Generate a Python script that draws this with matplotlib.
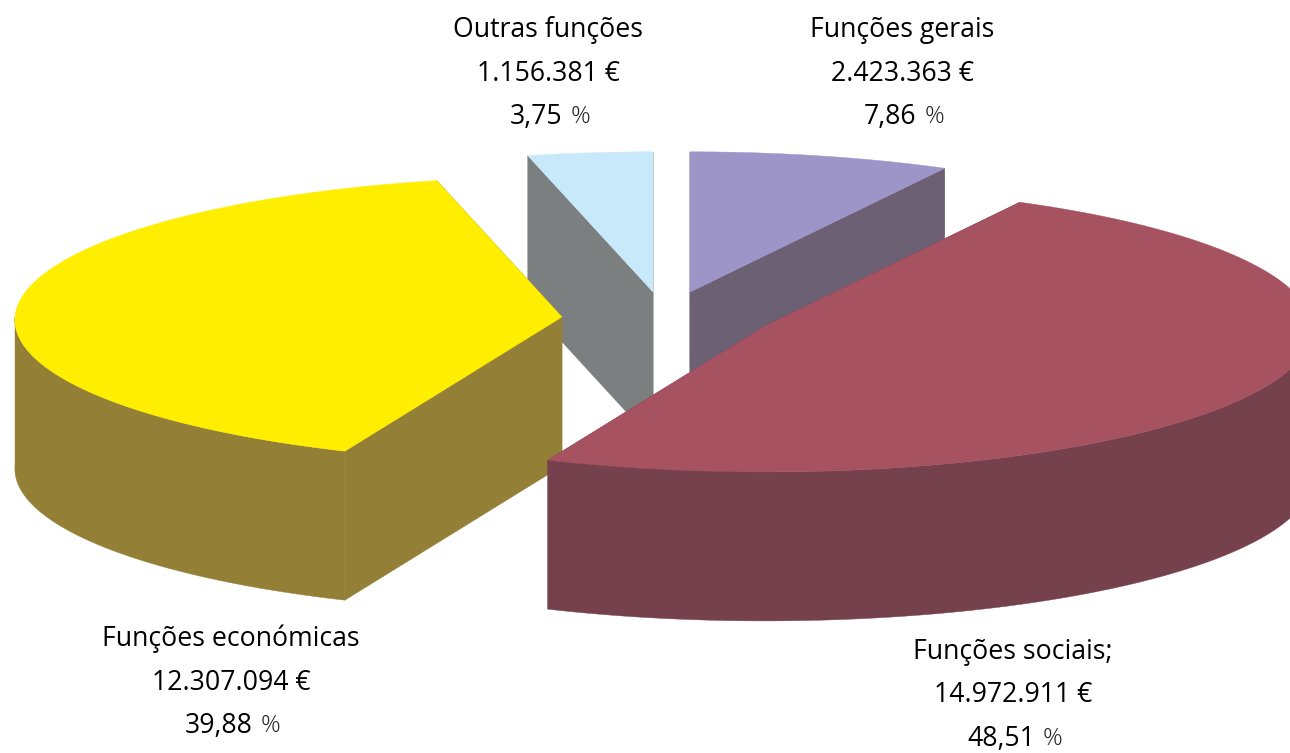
import numpy as np
import matplotlib
matplotlib.use("Agg")
import matplotlib.pyplot as plt
from matplotlib.patches import Polygon

names = ["Funções gerais", "Funções sociais;", "Funções económicas", "Outras funções"]
euros = ["2.423.363 €", "14.972.911 €", "12.307.094 €", "1.156.381 €"]
percent = [7.86, 48.51, 39.88, 3.75]
percent_labels = ["7,86", "48,51", "39,88", "3,75"]

top_colors = ["#9D95C8", "#A65260", "#FFEE00", "#C8E9FA"]
side_colors = ["#6C6074", "#74414C", "#947F37", "#7B7F80"]
apex_x = [690, 765, 562, 653]
apex_y = [292, 326, 317, 292]
label_x = [902, 1013, 231, 548]
label_y = [30, 652, 639, 30]
RX, RY, DEPTH, TILT = 547, 143, 149, 0.02
LINE = 43.5

plt.rcParams["font.family"] = ["Open Sans", "DejaVu Sans"]
fig = plt.figure(figsize=(12.9, 7.53), dpi=100)
ax = fig.add_axes([0, 0, 1, 1])
ax.set_xlim(0, 1290)
ax.set_ylim(753, 0)
ax.axis("off")

edges = np.concatenate([[0], np.cumsum(percent)]) / sum(percent) * 2 * np.pi

def rim(i, start, stop):
    t = np.linspace(start, stop, 200)
    s = 1 / (1 + TILT * np.cos(t))
    return np.column_stack([apex_x[i] + RX * s * np.sin(t), apex_y[i] - RY * s * np.cos(t)])

for i in [3, 0, 2, 1]:
    a, b = edges[i], edges[i + 1]
    arc = rim(i, a, b)
    apex = np.array([apex_x[i], apex_y[i]])
    down = np.array([0, DEPTH])
    # flat walls from the centre to each end of the arc
    for end in (arc[0], arc[-1]):
        wall = np.array([apex, end, end + down, apex + down])
        ax.add_patch(Polygon(wall, closed=True, fc=side_colors[i], ec=side_colors[i], lw=0.3))
    # outer wall on the part of the rim that faces the viewer
    lo, hi = max(a, np.pi / 2), min(b, 3 * np.pi / 2)
    if lo < hi:
        front = rim(i, lo, hi)
        ax.add_patch(Polygon(np.vstack([front, (front + down)[::-1]]), closed=True,
                             fc=side_colors[i], ec=side_colors[i], lw=0.3))
    ax.add_patch(Polygon(np.vstack([apex, arc]), closed=True, fc=top_colors[i], ec=top_colors[i], lw=0.3))

renderer = fig.canvas.get_renderer()
for i in range(4):
    x, y = label_x[i], label_y[i]
    ax.text(x, y, names[i], ha="center", va="center", fontsize=19.2, color="#000000")
    ax.text(x, y + LINE, euros[i], ha="center", va="center", fontsize=19.2, color="#000000")
    num = ax.text(x, y + 2 * LINE, percent_labels[i], ha="right", va="center", fontsize=19.2, color="#000000")
    width = num.get_window_extent(renderer).width
    right = x + width / 2 - 12
    num.set_x(right)
    ax.text(right + 8, y + 2 * LINE, "%", ha="left", va="center", fontsize=17.5, fontweight="light", color="#222222")

fig.savefig("out.png", dpi=100)
